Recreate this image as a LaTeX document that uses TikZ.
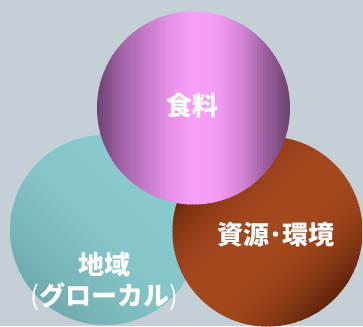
\documentclass[tikz,border=0pt]{standalone}
\usepackage{fontspec}
\newfontfamily\jp{Noto Sans CJK JP}
\definecolor{bgc}{HTML}{C5D0D6}
% pink (left -> right)
\definecolor{pk0}{HTML}{6D4070}
\definecolor{pk1}{HTML}{A262A6}
\definecolor{pk2}{HTML}{C57AC8}
\definecolor{pk3}{HTML}{E591E7}
\definecolor{pk4}{HTML}{F8A0F8}
\definecolor{pk5}{HTML}{F29BF2}
\definecolor{pk6}{HTML}{D486D6}
\definecolor{pk7}{HTML}{9C5E9E}
\definecolor{pk8}{HTML}{6A426C}
% brown (top-left -> bottom-right)
\definecolor{br0}{HTML}{5C2006}
\definecolor{br1}{HTML}{7E3210}
\definecolor{br2}{HTML}{98401A}
\definecolor{br3}{HTML}{A2461D}
\definecolor{br4}{HTML}{A4481E}
\definecolor{br5}{HTML}{A3471D}
\definecolor{br6}{HTML}{9A4219}
\definecolor{br7}{HTML}{813512}
\definecolor{br8}{HTML}{62240A}
% teal (top-right -> bottom-left)
\definecolor{tl0}{HTML}{8CCCCF}
\definecolor{tl1}{HTML}{8ACBCE}
\definecolor{tl2}{HTML}{89C9CD}
\definecolor{tl3}{HTML}{87C7CB}
\definecolor{tl4}{HTML}{86C5C9}
\definecolor{tl5}{HTML}{82C0C4}
\definecolor{tl6}{HTML}{7DBABE}
\definecolor{tl7}{HTML}{77B3B6}
\definecolor{tl8}{HTML}{70AAAD}
\tikzset{lbl/.style={text=white, inner sep=0pt, font=\jp\bfseries\fontsize{26}{30}\selectfont}}
% #1 x, #2 y, #3 radius, #4 axis angle, #5 colour prefix
\newcommand\gradcircle[5]{%
  \begin{scope}
    \clip (#1,#2) circle (#3);
    \begin{scope}[shift={(#1,#2)}, rotate=#4]
      \foreach \i in {0,...,63}{%
        \pgfmathsetmacro\gcT{(\i+0.5)/64*8}%
        \pgfmathtruncatemacro\gcK{min(floor(\gcT),7)}%
        \pgfmathtruncatemacro\gcKK{\gcK+1}%
        \pgfmathtruncatemacro\gcF{round((\gcT-\gcK)*100)}%
        \colorlet{gcCur}{#5\gcKK!\gcF!#5\gcK}%
        \fill[gcCur] (-#3+\i*2*#3/64,-#3-2) rectangle (-#3+\i*2*#3/64+2*#3/64*1.4,#3+2);
      }
    \end{scope}
  \end{scope}
}
\begin{document}
\begin{tikzpicture}[x=1pt,y=-1pt]
  \fill[bgc] (0,0) rectangle (363,326);
  \useasboundingbox (0,0) rectangle (363,326);
  \gradcircle{105}{230}{95}{-135}{tl}
  \gradcircle{267.5}{231.5}{95}{-45}{br}
  \gradcircle{193.5}{108}{96.5}{0}{pk}
  \node[lbl] (food) at (192.5,106) {食料};
  \node[lbl] (res) at (276,235) {資源･環境};
  \node[lbl] (region) at (104,265) {地域};
  \node[lbl] (glocal) at (104,297) {{\mdseries(}グローカル{\mdseries)}};
\end{tikzpicture}
\end{document}
